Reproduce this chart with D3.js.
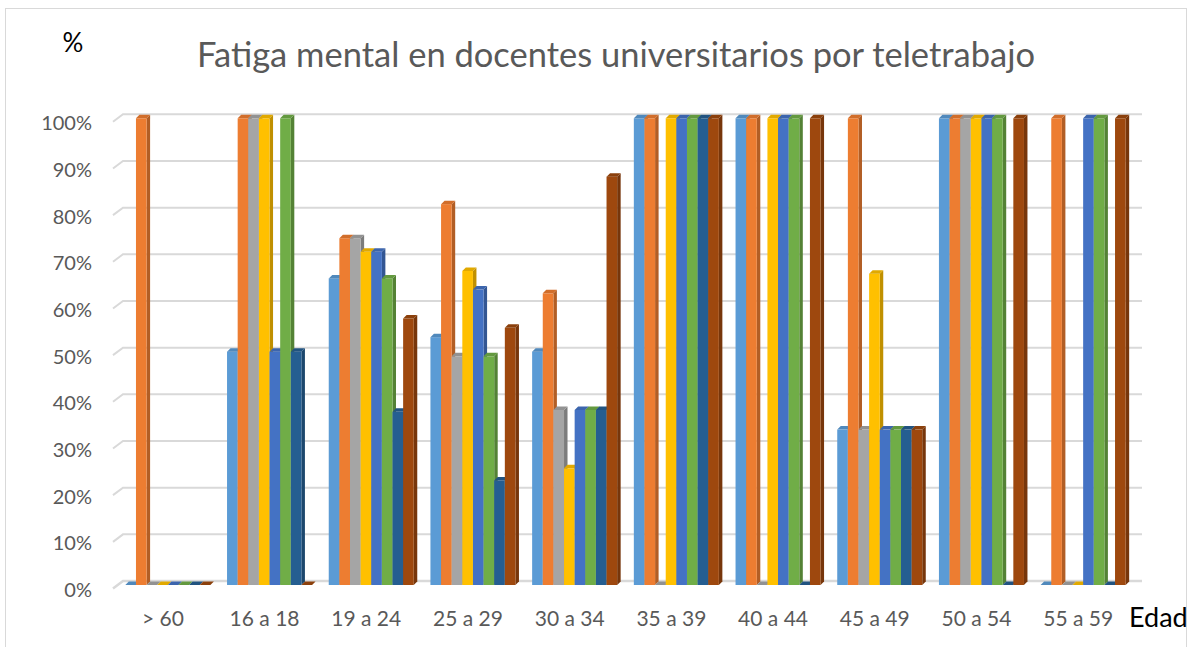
<!DOCTYPE html>
<html>
<head>
<meta charset="utf-8">
<script src="https://cdn.jsdelivr.net/npm/d3@7"></script>
<style>
  body { margin: 0; background: #fff; }
  svg { display: block; }
</style>
</head>
<body>
<script>
// categorías (edad) y valores en %
const categories = ["> 60", "16 a 18", "19 a 24", "25 a 29", "30 a 34", "35 a 39", "40 a 44", "45 a 49", "50 a 54", "55 a 59"];
const serie1 = [0, 50, 65.7, 53.1, 50, 100, 100, 33.3, 100, 0];
const serie2 = [100, 100, 74.3, 81.6, 62.5, 100, 100, 100, 100, 100];
const serie3 = [0, 100, 74.3, 49.0, 37.5, 0, 0, 33.3, 100, 0];
const serie4 = [0, 100, 71.4, 67.3, 25, 100, 100, 66.7, 100, 0];
const serie5 = [0, 50, 71.4, 63.3, 37.5, 100, 100, 33.3, 100, 100];
const serie6 = [0, 100, 65.7, 49.0, 37.5, 100, 100, 33.3, 100, 100];
const serie7 = [0, 50, 37.1, 22.4, 37.5, 100, 0, 33.3, 0, 0];
const serie8 = [0, 0, 57.1, 55.1, 87.5, 100, 100, 33.3, 100, 100];
const yTicks = [0, 10, 20, 30, 40, 50, 60, 70, 80, 90, 100];

const seriesValues = [serie1, serie2, serie3, serie4, serie5, serie6, serie7, serie8];
const colors = ["#5B9BD5", "#ED7D31", "#A5A5A5", "#FFC000", "#4472C4", "#70AD47", "#255E91", "#9E480E"];

const WIDTH = 1190;
const HEIGHT = 647;
const FONT = "Lato, 'Open Sans', sans-serif";

const svg = d3.select("body").append("svg")
  .attr("width", WIDTH)
  .attr("height", HEIGHT);

// borde del área del gráfico
svg.append("rect")
  .attr("x", 5.5).attr("y", 8.5)
  .attr("width", 1181).attr("height", 660)
  .attr("fill", "none")
  .attr("stroke", "#D9D9D9");

// escalas
const x = d3.scaleBand()
  .domain(categories)
  .range([117, 1134])
  .paddingInner(0.164)
  .paddingOuter(0.082);

const xs = d3.scaleBand()
  .domain(d3.range(seriesValues.length))
  .range([0, x.bandwidth()]);

const y = d3.scaleLinear().domain([0, 100]).range([581, 114.3]);

const dx = 3.5, dy = 3.5; // profundidad 3D

// líneas de la pared de fondo
const grid = svg.append("g");
yTicks.forEach(t => {
  grid.append("path")
    .attr("d", `M113,${y(t) + 7.5} L123,${y(t)} L1142,${y(t)}`)
    .attr("fill", "none")
    .attr("stroke", "#D9D9D9")
    .attr("stroke-width", t === 0 ? 2.5 : 2);
});

// eje Y (etiquetas)
const yLab = y.copy().range([y(0) + 9, y(100) + 9]);
const yAxis = svg.append("g")
  .attr("transform", "translate(92,0)")
  .call(d3.axisLeft(yLab).tickValues(yTicks).tickSize(0).tickPadding(0).tickFormat(d => d + "%"));
yAxis.select(".domain").remove();
yAxis.selectAll("text")
  .attr("fill", "#595959")
  .style("font-family", FONT)
  .style("font-size", "20px");

// barras 3D
const base = y(0) + 4;
const groups = svg.append("g").selectAll("g")
  .data(categories)
  .join("g")
  .attr("transform", d => `translate(${x(d)},0)`);

groups.each(function (cat, ci) {
  const g = d3.select(this);
  seriesValues.forEach((vals, si) => {
    const v = vals[ci];
    const bx = xs(si);
    const w = xs.bandwidth();
    const top = y(v) + 4;
    const c = d3.color(colors[si]);
    // cara lateral
    g.append("path")
      .attr("d", `M${bx + w},${top} L${bx + w + dx},${top - dy} L${bx + w + dx},${base - dy} L${bx + w},${base} Z`)
      .attr("fill", c.darker(0.8));
    // cara frontal
    g.append("rect")
      .attr("x", bx).attr("y", top)
      .attr("width", w).attr("height", base - top)
      .attr("fill", colors[si]);
    // cara superior
    g.append("path")
      .attr("d", `M${bx},${top} L${bx + dx},${top - dy} L${bx + w + dx},${top - dy} L${bx + w},${top} Z`)
      .attr("fill", c.darker(0.35));
  });
});

// eje X (etiquetas)
const xAxis = svg.append("g")
  .attr("transform", "translate(-5,0)")
  .call(d3.axisBottom(x).tickSize(0).tickPadding(0));
xAxis.select(".domain").remove();
xAxis.selectAll("text")
  .attr("y", 626)
  .attr("dy", null)
  .attr("fill", "#595959")
  .style("font-family", FONT)
  .style("font-size", "21px");

// título y rótulos
svg.append("text")
  .attr("x", 616).attr("y", 67)
  .attr("text-anchor", "middle")
  .attr("fill", "#595959")
  .style("font-family", FONT)
  .style("font-size", "34.5px")
  .text("Fatiga mental en docentes universitarios por teletrabajo");

svg.append("text")
  .attr("x", 73).attr("y", 52)
  .attr("text-anchor", "middle")
  .attr("fill", "#000")
  .style("font-family", FONT)
  .style("font-size", "26px")
  .text("%");

svg.append("text")
  .attr("x", 1129).attr("y", 627)
  .attr("fill", "#000")
  .style("font-family", FONT)
  .style("font-size", "27px")
  .text("Edad");
</script>
</body>
</html>
